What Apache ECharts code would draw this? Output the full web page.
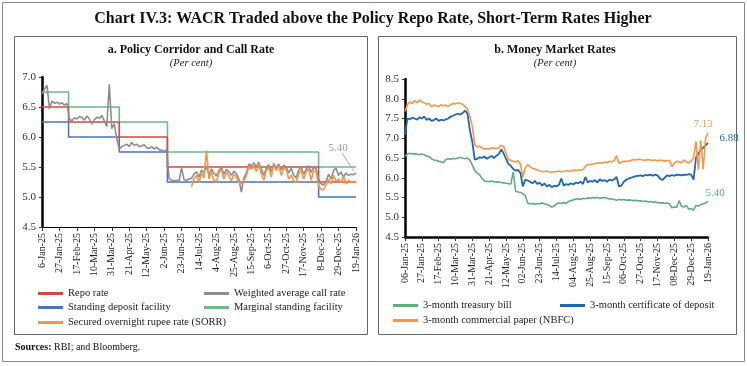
<!DOCTYPE html>
<html><head><meta charset="utf-8">
<script src="https://cdn.jsdelivr.net/npm/echarts@6/dist/echarts.min.js"></script>
<style>html,body{margin:0;padding:0;background:#fff}#c{width:747px;height:366px}</style>
</head><body><div id="c"></div>
<script>
// ---------- DATA ----------
const START = '2025-01-06';
const tickLabelsA = ['6-Jan-25','27-Jan-25','17-Feb-25','10-Mar-25','31-Mar-25','21-Apr-25','12-May-25','2-Jun-25','23-Jun-25','14-Jul-25','4-Aug-25','25-Aug-25','15-Sep-25','6-Oct-25','27-Oct-25','17-Nov-25','8-Dec-25','29-Dec-25','19-Jan-26'];
const tickLabelsB = ['06-Jan-25','27-Jan-25','17-Feb-25','10-Mar-25','31-Mar-25','21-Apr-25','12-May-25','02-Jun-25','23-Jun-25','14-Jul-25','04-Aug-25','25-Aug-25','15-Sep-25','06-Oct-25','27-Oct-25','17-Nov-25','08-Dec-25','29-Dec-25','19-Jan-26'];

// policy rate change dates and levels
const policyDates = ['2025-01-06','2025-02-07','2025-04-09','2025-06-06','2025-12-05','2026-01-19'];
const repoRate = [6.50, 6.25, 6.00, 5.50, 5.25, 5.25];
const sdfRate  = [6.25, 6.00, 5.75, 5.25, 5.00, 5.00];
const msfRate  = [6.75, 6.50, 6.25, 5.75, 5.50, 5.50];

// sampled every 3 days from the start date
const SAMPLE_STEP = 3;
const wacr = [6.72,6.80,6.86,6.47,6.60,6.56,6.58,6.55,6.57,6.53,
6.56,6.30,6.27,6.32,6.30,6.34,6.33,6.28,6.35,6.30,
6.22,6.29,6.33,6.31,6.36,6.27,6.17,6.88,6.14,6.22,
5.98,5.80,5.84,5.86,5.88,5.84,5.91,5.86,5.88,5.84,
5.85,5.87,5.82,5.81,5.84,5.80,5.83,5.79,5.78,5.76,
5.79,5.31,5.28,5.27,5.28,5.27,5.49,5.29,5.28,5.30,
5.31,5.38,5.42,5.33,5.45,5.40,5.52,5.37,5.47,5.40,
5.35,5.44,5.49,5.38,5.46,5.42,5.36,5.43,5.39,5.30,
5.08,5.32,5.40,5.55,5.52,5.57,5.50,5.58,5.46,5.36,
5.48,5.54,5.42,5.56,5.49,5.55,5.45,5.53,5.50,5.40,
5.48,5.36,5.32,5.45,5.50,5.38,5.46,5.52,5.41,5.49,
5.47,5.30,5.22,5.20,5.26,5.38,5.30,5.44,5.48,5.36,
5.42,5.33,5.40,5.36,5.38,5.37,5.40];
const SORR_START = '2025-07-05';
const sorr = [5.17,5.30,5.36,5.24,5.40,5.32,5.78,5.30,5.42,5.28,
5.26,5.40,5.46,5.30,5.42,5.35,5.27,5.38,5.33,5.25,
5.22,5.28,5.35,5.50,5.46,5.52,5.42,5.55,5.38,5.28,
5.44,5.50,5.33,5.54,5.44,5.52,5.36,5.48,5.46,5.30,
5.36,5.27,5.24,5.38,5.45,5.30,5.42,5.47,5.28,5.44,
5.42,5.18,5.13,5.12,5.20,5.30,5.22,5.36,5.26,5.30,
5.24,5.34,5.22,5.28,5.24,5.26,5.25];

const tbill = [6.54,6.60,6.62,6.60,6.61,6.60,6.58,6.60,6.58,6.55,
6.54,6.48,6.45,6.44,6.42,6.40,6.38,6.46,6.48,6.47,
6.49,6.48,6.50,6.52,6.50,6.48,6.50,6.44,6.32,6.18,
6.12,6.08,5.98,5.92,5.91,5.90,5.92,5.90,5.89,5.90,
5.88,5.87,5.86,5.85,5.84,6.15,5.66,5.64,5.63,5.60,
5.55,5.36,5.34,5.35,5.33,5.35,5.34,5.36,5.34,5.32,
5.30,5.26,5.28,5.34,5.36,5.35,5.37,5.35,5.40,5.42,
5.44,5.46,5.47,5.45,5.48,5.47,5.49,5.48,5.50,5.49,
5.50,5.48,5.49,5.50,5.48,5.46,5.47,5.45,5.43,5.45,
5.44,5.45,5.43,5.44,5.43,5.42,5.43,5.41,5.42,5.40,
5.41,5.39,5.40,5.38,5.39,5.37,5.36,5.37,5.35,5.36,
5.34,5.24,5.26,5.25,5.42,5.28,5.26,5.30,5.20,5.22,
5.18,5.30,5.28,5.32,5.34,5.36,5.40];
const cd = [7.09,7.50,7.48,7.52,7.50,7.47,7.53,7.50,7.55,7.46,
7.50,7.44,7.46,7.50,7.44,7.47,7.45,7.48,7.50,7.55,
7.57,7.60,7.62,7.60,7.64,7.70,7.62,7.20,6.90,6.46,
6.48,6.52,6.50,6.54,6.48,6.52,6.55,6.50,6.56,6.60,
6.72,6.62,6.48,6.35,6.30,6.22,6.18,6.20,6.12,5.78,
5.95,5.93,5.90,5.86,5.92,5.84,5.88,5.80,5.86,5.78,
5.82,5.76,5.80,5.78,5.82,5.98,5.80,5.84,5.82,5.86,
5.83,5.88,5.86,5.90,5.84,6.02,5.88,5.92,5.90,5.94,
5.88,5.96,5.92,5.94,5.90,5.95,5.93,5.96,6.02,5.78,
5.80,5.90,5.95,5.98,6.00,6.02,6.04,6.05,6.06,6.04,
6.07,6.06,6.08,6.05,6.08,6.06,5.98,5.94,6.00,6.06,
6.04,6.07,6.05,6.08,6.07,6.06,6.08,6.07,6.09,6.08,
5.95,6.50,6.62,6.70,6.76,6.82,6.88];
const cp = [7.68,7.85,7.92,7.88,7.95,7.90,7.97,7.92,7.90,7.86,
7.88,7.80,7.84,7.82,7.80,7.85,7.82,7.84,7.80,7.85,
7.88,7.87,7.90,7.88,7.86,7.80,7.74,7.55,7.30,6.84,
6.78,6.80,6.76,6.72,6.74,6.73,6.76,6.75,6.74,6.76,
6.82,6.80,6.62,6.46,6.44,6.42,6.40,6.43,6.35,6.02,
6.25,6.33,6.28,6.24,6.22,6.20,6.18,6.15,6.16,6.17,
6.15,6.14,6.16,6.15,6.17,6.15,6.16,6.17,6.18,6.16,
6.20,6.18,6.20,6.19,6.21,6.28,6.34,6.33,6.35,6.36,
6.37,6.38,6.36,6.40,6.38,6.42,6.40,6.44,6.56,6.36,
6.40,6.42,6.41,6.42,6.44,6.46,6.45,6.47,6.46,6.45,
6.44,6.46,6.45,6.44,6.45,6.43,6.44,6.44,6.42,6.43,
6.44,6.28,6.36,6.42,6.40,6.38,6.45,6.40,6.38,6.42,
6.50,6.92,6.20,6.95,6.22,7.00,7.13];

// ---------- BUILD ----------
const DAY = 86400000;
const dayIdx = s => Math.round((Date.parse(s) - Date.parse(START)) / DAY);
const pairDates = (dates, vals) => dates.map((d, i) => [dayIdx(d), vals[i]]);
const sampled = (startDate, vals) => { const o = dayIdx(startDate); return vals.map((v, i) => [o + i * SAMPLE_STEP, v]); };

const C = { repo:'#d9463e', wacr:'#8d8d8d', sdf:'#4a74c4', msf:'#6cbb8a', sorr:'#f5954a',
            tb:'#62ad7e', cd:'#1f67b4', cp:'#f7964a' };
const SERIF = '"Liberation Serif", "DejaVu Serif", serif';
const XMAX = dayIdx('2026-01-19');

function xAxis(grid, labels, thick) {
  return { type:'value', gridIndex:grid, min:0, max:XMAX, interval:21,
    axisLine:{ onZero:false, lineStyle:{ color:'#000', width: thick } },
    axisTick:{ show:true, length:4, lineStyle:{ color:'#333' } },
    splitLine:{ show:false },
    axisLabel:{ rotate:90, fontFamily:SERIF, fontSize:10, color:'#222', margin:6,
      formatter: v => labels[Math.round(v / 21)] || '' } };
}
function yAxis(grid, min, max) {
  return { type:'value', gridIndex:grid, min:min, max:max, interval:0.5,
    axisLine:{ show:true, lineStyle:{ color:'#000', width:2.5 } },
    axisTick:{ show:true, length:3, lineStyle:{ color:'#333' } },
    splitLine:{ show:false },
    axisLabel:{ fontFamily:SERIF, fontSize:11, color:'#333', margin:6, formatter: v => v.toFixed(1) } };
}
function line(name, data, color, xi, w, step) {
  const s = { name, type:'line', xAxisIndex:xi, yAxisIndex:xi, data, showSymbol:false, symbol:'none',
    lineStyle:{ color, width:w }, itemStyle:{ color }, animation:false, emphasis:{ disabled:true } };
  if (step) s.step = 'end';
  return s;
}
function leg(name, left, top) {
  return { data:[name], left, top, orient:'horizontal', icon:'rect', itemWidth:25, itemHeight:3,
    textStyle:{ fontFamily:SERIF, fontSize:10.5, color:'#222' }, selectedMode:false, padding:0 };
}

const chart = echarts.init(document.getElementById('c'), null, { renderer:'canvas' });
const option = {
  animation:false,
  grid:[ { left:42, top:77, width:314, height:150 }, { left:405, top:79, width:303, height:158 } ],
  xAxis:[ xAxis(0, tickLabelsA, 1.2), xAxis(1, tickLabelsB, 2.5) ],
  yAxis:[ yAxis(0, 4.5, 7.0), yAxis(1, 4.5, 8.5) ],
  legend:[
    leg('Repo rate', 38, 288), leg('Weighted average call rate', 204, 288),
    leg('Standing deposit facility', 38, 302), leg('Marginal standing facility', 204, 302),
    leg('Secured overnight rupee rate (SORR)', 38, 317),
    leg('3-month treasury bill', 393, 300), leg('3-month certificate of deposit', 560, 300),
    leg('3-month commercial paper (NBFC)', 393, 315)
  ],
  series:[
    line('Standing deposit facility', pairDates(policyDates, sdfRate), C.sdf, 0, 1.6, true),
    line('Marginal standing facility', pairDates(policyDates, msfRate), C.msf, 0, 1.6, true),
    line('Repo rate', pairDates(policyDates, repoRate), C.repo, 0, 1.6, true),
    line('Weighted average call rate', sampled(START, wacr), C.wacr, 0, 1.6),
    line('Secured overnight rupee rate (SORR)', sampled(SORR_START, sorr), C.sorr, 0, 1.6),
    line('3-month treasury bill', sampled(START, tbill), C.tb, 1, 1.6),
    line('3-month certificate of deposit', sampled(START, cd), C.cd, 1, 1.8),
    line('3-month commercial paper (NBFC)', sampled(START, cp), C.cp, 1, 1.6)
  ],
  graphic:[
    { type:'rect', shape:{ x:2.5, y:2.5, width:742, height:359 }, style:{ fill:null, stroke:'#888', lineWidth:1 }, silent:true },
    { type:'rect', shape:{ x:14.5, y:36.5, width:353, height:298 }, style:{ fill:null, stroke:'#666', lineWidth:1 }, silent:true },
    { type:'rect', shape:{ x:378.5, y:36.5, width:358, height:298 }, style:{ fill:null, stroke:'#666', lineWidth:1 }, silent:true },
    { type:'text', x:373, y:19, style:{ text:'Chart IV.3: WACR Traded above the Policy Repo Rate, Short-Term Rates Higher',
      font:'bold 16px ' + SERIF, fill:'#111', align:'center', verticalAlign:'middle' } },
    { type:'text', x:191, y:50, style:{ text:'a. Policy Corridor and Call Rate', font:'bold 12px ' + SERIF, fill:'#111', align:'center', verticalAlign:'middle' } },
    { type:'text', x:191, y:63, style:{ text:'(Per cent)', font:'italic 10.5px ' + SERIF, fill:'#222', align:'center', verticalAlign:'middle' } },
    { type:'text', x:555, y:50, style:{ text:'b. Money Market Rates', font:'bold 12px ' + SERIF, fill:'#111', align:'center', verticalAlign:'middle' } },
    { type:'text', x:555, y:63, style:{ text:'(Per cent)', font:'italic 10.5px ' + SERIF, fill:'#222', align:'center', verticalAlign:'middle' } },
    { type:'text', x:15, y:347, style:{ text:'{b|Sources:} RBI; and Bloomberg.', font:'10px ' + SERIF, fill:'#111', verticalAlign:'middle',
      rich:{ b:{ fontWeight:'bold', fontFamily:SERIF, fontSize:10 } } } }
  ]
};
chart.setOption(option);

// end-value annotations placed via the axes
const pA = chart.convertToPixel({ gridIndex:0 }, [XMAX, wacr[wacr.length-1]]);
const pT = chart.convertToPixel({ gridIndex:1 }, [XMAX, tbill[tbill.length-1]]);
const pD = chart.convertToPixel({ gridIndex:1 }, [XMAX, cd[cd.length-1]]);
const pP = chart.convertToPixel({ gridIndex:1 }, [XMAX, cp[cp.length-1]]);
chart.setOption({ graphic: option.graphic.concat([
  { type:'line', shape:{ x1:pA[0]-14, y1:pA[1]-20, x2:pA[0]-2, y2:pA[1]-2 }, style:{ stroke:'#999', lineWidth:0.8 }, silent:true },
  { type:'text', x:pA[0]-18, y:pA[1]-25, style:{ text:wacr[wacr.length-1].toFixed(2), font:'11px ' + SERIF, fill:'#999', align:'center', verticalAlign:'middle' } },
  { type:'text', x:pT[0]+7, y:pT[1]-8, style:{ text:tbill[tbill.length-1].toFixed(2), font:'11px ' + SERIF, fill:C.tb, align:'center', verticalAlign:'middle' } },
  { type:'text', x:pD[0]+21, y:pD[1]-5, style:{ text:cd[cd.length-1].toFixed(2), font:'11px ' + SERIF, fill:C.cd, align:'center', verticalAlign:'middle' } },
  { type:'text', x:pP[0]-5, y:pP[1]-9, style:{ text:cp[cp.length-1].toFixed(2), font:'11px ' + SERIF, fill:C.cp, align:'center', verticalAlign:'middle' } }
]) });
</script></body></html>
